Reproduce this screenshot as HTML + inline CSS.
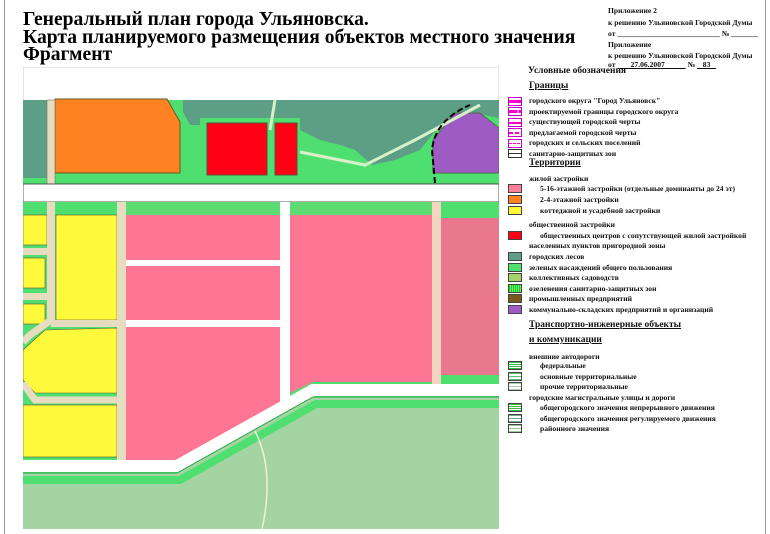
<!DOCTYPE html>
<html><head><meta charset="utf-8"><style>
body{margin:0;width:770px;height:534px;background:#fff;position:relative;overflow:hidden;font-family:"Liberation Serif",serif;}
.t{position:absolute;left:23px;font-weight:bold;font-size:19.6px;line-height:20px;white-space:nowrap;color:#000}
.l{position:absolute;font-size:7.6px;font-weight:bold;white-space:nowrap;line-height:9px;color:#111}
.h{position:absolute;font-size:9.5px;font-weight:bold;white-space:nowrap;text-decoration:underline;color:#111}
.s{position:absolute;left:508px;width:12px;height:7px;border:1px solid #444}
</style></head><body>
<div style="position:absolute;left:4px;top:0;width:1px;height:534px;background:#999"></div>
<div style="position:absolute;left:765px;top:0;width:1px;height:534px;background:#999"></div>
<div class="t" style="top:10px">Генеральный план города Ульяновска.</div>
<div class="t" style="top:28px">Карта планируемого размещения объектов местного значения</div>
<div class="t" style="top:45px">Фрагмент</div>

<div class="l" style="left:608px;top:6px">Приложение 2</div>
<div class="l" style="left:608px;top:18px">к решению Ульяновской Городской Думы</div>
<div class="l" style="left:608px;top:29px">от ___________________________ № _______</div>
<div class="l" style="left:608px;top:40px">Приложение</div>
<div class="l" style="left:608px;top:51px">к решению Ульяновской Городской Думы</div>
<div class="l" style="left:608px;top:60px">от <u>&nbsp;&nbsp;&nbsp;&nbsp;&nbsp;&nbsp;&nbsp;27.06.2007&nbsp;&nbsp;&nbsp;&nbsp;&nbsp;&nbsp;&nbsp;&nbsp;&nbsp;&nbsp;&nbsp;</u> № <u>&nbsp;&nbsp;&nbsp;83&nbsp;&nbsp;&nbsp;</u></div>

<svg style="position:absolute;left:23px;top:67px" width="476" height="462" viewBox="23 67 476 462">
<rect x="23" y="67" width="476" height="462" fill="#fff" stroke="#ccc"/>
<rect x="23" y="100" width="476" height="90" fill="#4fdf70"/>
<polygon points="23,100 52,100 52,178 23,178" fill="#5c9e86"/>
<polygon points="183,100 499,100 499,118 470,112 440,125 420,150 395,160 372,165 355,150 340,145 320,140 300,130 300,118 200,118 200,125 190,125 183,112" fill="#5c9e86"/>
<polygon points="55,99 167,99 180,122 180,173 55,173" fill="#ff8222" stroke="#6a5a20"/>
<rect x="207" y="123" width="60" height="52" fill="#ff0014" stroke="#553"/>
<rect x="275" y="123" width="22" height="52" fill="#ff0014" stroke="#553"/>
<polygon points="433,140 455,113 480,113 499,128 499,173 433,173" fill="#9f5bc4" stroke="#565"/>
<polyline points="300,152 365,165 415,140 480,105" fill="none" stroke="#d8f0c8" stroke-width="3"/>
<path d="M275,100 L270,130" stroke="#d8f0c8" stroke-width="3" fill="none"/>
<path d="M435,183 L432,150 Q435,120 470,105" stroke="#000" stroke-width="2" stroke-dasharray="6,3" fill="none"/>
<rect x="47" y="100" width="8" height="85" fill="#e8dcc0" stroke="#776" stroke-width=".6"/>
<rect x="23" y="184" width="476" height="18" fill="#fff" stroke="#333" stroke-width=".8"/>
<rect x="23" y="202" width="476" height="300" fill="#4fdf70"/>
<rect x="23" y="215" width="24" height="30" fill="#fff93c" stroke="#553" stroke-width=".6"/>
<rect x="23" y="258" width="22" height="30" fill="#fff93c" stroke="#553" stroke-width=".6"/>
<rect x="23" y="304" width="22" height="20" fill="#fff93c" stroke="#553" stroke-width=".6"/>
<rect x="56" y="215" width="61" height="105" fill="#fff93c" stroke="#553" stroke-width=".6"/>
<polygon points="23,350 45,330 117,328 117,393 35,393 23,380" fill="#fff93c" stroke="#553" stroke-width=".6"/>
<rect x="23" y="405" width="94" height="52" fill="#fff93c" stroke="#553" stroke-width=".6"/>
<rect x="47" y="202" width="8" height="120" fill="#e8dcc0"/>
<polyline points="51,320 30,335 23,342" stroke="#e8dcc0" stroke-width="7" fill="none"/>
<polyline points="23,383 35,400 122,400" stroke="#e8dcc0" stroke-width="7" fill="none"/>
<rect x="23" y="248" width="25" height="7" fill="#e8dcc0"/>
<rect x="23" y="293" width="25" height="7" fill="#e8dcc0"/>
<rect x="51" y="320" width="70" height="7" fill="#e8dcc0"/>
<rect x="117" y="202" width="9" height="262" fill="#e8dcc0"/>
<rect x="126" y="202" width="154" height="13" fill="#5edc74"/>
<rect x="290" y="202" width="142" height="13" fill="#5edc74"/>
<polygon points="126,215 280,215 280,405 177,460 126,460" fill="#ff7594"/>
<rect x="126" y="260" width="154" height="6" fill="#fff"/>
<rect x="126" y="320" width="154" height="7" fill="#fff"/>
<rect x="280" y="202" width="10" height="205" fill="#fff"/>
<polygon points="290,215 432,215 432,382 313,382 290,393" fill="#ff7594"/>
<rect x="432" y="202" width="9" height="182" fill="#f2d6c0"/>
<rect x="441" y="218" width="58" height="157" fill="#e9788e"/>
<polygon points="23,473 177,473 313,397 499,397 499,529 23,529" fill="#a3d4a2"/>
<polyline points="23,480 180,480 316,404 499,404" fill="none" stroke="#4fdf70" stroke-width="8"/>
<polyline points="23,466 177,466 313,390 499,390" fill="none" stroke="#fff" stroke-width="12"/>
<polyline points="23,473 177,473 313,397 499,397" fill="none" stroke="#2a4" stroke-width="1"/>
<path d="M255,431 Q275,470 262,529" stroke="#e8f4d8" stroke-width="1.5" fill="none"/>
</svg>

<div class="l" style="left:528px;top:67px;font-size:9.5px">Условные обозначения</div>
<div class="h" style="left:529px;top:81px">Границы</div>
<div class="s" style="top:97px;background:#fff;border-color:#c0c"><div style="margin-top:2px;height:3px;background:#f0c"></div></div>
<div class="l" style="left:529px;top:96px">городского округа "Город Ульяновск"</div>
<div class="s" style="top:107px;background:#fff;border-color:#c0c"><div style="margin-top:2px;height:3px;background:linear-gradient(90deg,#f0c 70%,#fff 70%,#fff 80%,#f0c 80%)"></div></div>
<div class="l" style="left:529px;top:107px">проектируемой границы городского округа</div>
<div class="s" style="top:118px;background:#fff;border-color:#c0c"><div style="margin-top:3px;height:2px;background:#f0c"></div></div>
<div class="l" style="left:529px;top:117px">существующей городской черты</div>
<div class="s" style="top:128px;background:#fff;border-color:#c0c"><div style="margin-top:3px;height:2px;background:repeating-linear-gradient(90deg,#f0c 0 4px,#fff 4px 6px)"></div></div>
<div class="l" style="left:529px;top:128px">предлагаемой городской черты</div>
<div class="s" style="top:139px;background:#fff;border-color:#c0c"><div style="margin-top:3px;height:1px;background:repeating-linear-gradient(90deg,#f0c 0 3px,#fff 3px 4px)"></div></div>
<div class="l" style="left:529px;top:138px">городских и сельских поселений</div>
<div class="s" style="top:149px;background:#fff;border-color:#333"><div style="margin-top:3px;height:1px;background:#333"></div></div>
<div class="l" style="left:529px;top:149px">санитарно-защитных зон</div>
<div class="h" style="left:529px;top:158px">Территории</div>
<div class="l" style="left:529px;top:174px">жилой застройки</div>
<div class="s" style="top:184px;background:#ff7d98"></div><div class="l" style="left:540px;top:184px">5-16-этажной застройки (отдельные доминанты до 24 эт)</div>
<div class="s" style="top:195px;background:#ff8222"></div><div class="l" style="left:540px;top:195px">2-4-этажной застройки</div>
<div class="s" style="top:206px;background:#fff93c"></div><div class="l" style="left:540px;top:206px">коттеджной и усадебной застройки</div>
<div class="l" style="left:529px;top:220px">общественной застройки</div>
<div class="s" style="top:231px;background:#ff0014"></div><div class="l" style="left:540px;top:231px">общественных центров с сопутствующей жилой застройкой</div>
<div class="l" style="left:529px;top:241px">населенных пунктов пригородной зоны</div>
<div class="s" style="top:252px;background:#5c9e86"></div><div class="l" style="left:529px;top:252px">городских лесов</div>
<div class="s" style="top:263px;background:#4fdf70"></div><div class="l" style="left:529px;top:263px">зеленых насаждений общего пользования</div>
<div class="s" style="top:273px;background:#a5d36a"></div><div class="l" style="left:529px;top:273px">коллективных садоводств</div>
<div class="s" style="top:284px;background:repeating-linear-gradient(90deg,#2c2 0 1px,#6e6 1px 2px)"></div><div class="l" style="left:529px;top:284px">озеленения санитарно-защитных зон</div>
<div class="s" style="top:294px;background:#7a5a1c"></div><div class="l" style="left:529px;top:294px">промышленных предприятий</div>
<div class="s" style="top:305px;background:#9f5bc4"></div><div class="l" style="left:529px;top:305px">коммунально-складских предприятий и организаций</div>
<div class="h" style="left:529px;top:320px">Транспортно-инженерные объекты</div>
<div class="h" style="left:529px;top:335px">и коммуникации</div>
<div class="l" style="left:529px;top:352px">внешние автодороги</div>
<div class="s" style="top:361px;background:repeating-linear-gradient(180deg,#3b4 0 1px,#fff 1px 2px)"></div><div class="l" style="left:540px;top:361px">федеральные</div>
<div class="s" style="top:372px;background:repeating-linear-gradient(180deg,#6b7 0 1px,#fff 1px 3px)"></div><div class="l" style="left:540px;top:372px">основные территориальные</div>
<div class="s" style="top:382px;background:repeating-linear-gradient(180deg,#aca 0 1px,#fff 1px 3px)"></div><div class="l" style="left:540px;top:382px">прочие территориальные</div>
<div class="l" style="left:529px;top:393px">городские магистральные улицы и дороги</div>
<div class="s" style="top:403px;background:repeating-linear-gradient(180deg,#3b4 0 1px,#fff 1px 2px)"></div><div class="l" style="left:540px;top:403px">общегородского значения непрерывного движения</div>
<div class="s" style="top:414px;background:repeating-linear-gradient(180deg,#7a8 0 1px,#fff 1px 3px)"></div><div class="l" style="left:540px;top:414px">общегородского значения регулируемого движения</div>
<div class="s" style="top:424px;background:repeating-linear-gradient(180deg,#9c9 0 1px,#fff 1px 3px)"></div><div class="l" style="left:540px;top:424px">районного значения</div>
</body></html>
